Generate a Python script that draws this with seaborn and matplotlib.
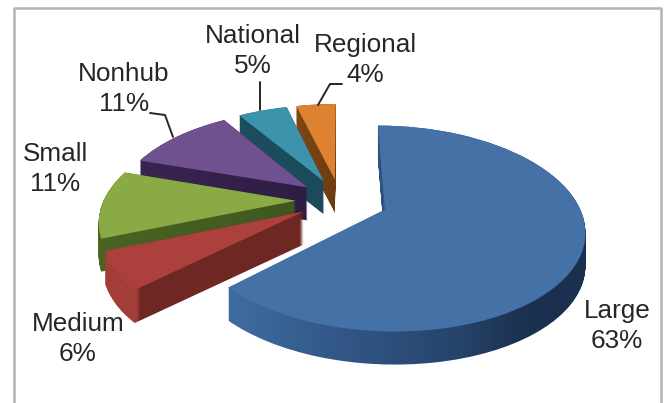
import numpy as np
import matplotlib
matplotlib.use("Agg")
import matplotlib.pyplot as plt
import matplotlib.colors as mcolors
from matplotlib.path import Path
from matplotlib.transforms import Transform, Affine2D, IdentityTransform
import seaborn as sns

categories = ["Large", "Medium", "Small", "Nonhub", "National", "Regional"]
shares = [63, 6, 11, 11, 5, 4]

top_colors = sns.color_palette(["#4471a6", "#ab403c", "#8aaa45", "#70518f", "#3c93ab", "#dc8231"])
# side wall colours, (pixel x, colour) stops
wall_stops = [
    [(230, "#3f6c9f"), (330, "#33598a"), (450, "#27456c"), (520, "#1c3251"), (590, "#1b2f4f")],
    [(100, "#a33d38"), (136, "#a33d38"), (140, "#6e2722"), (310, "#6e2722")],
    [(100, "#4a6423"), (310, "#3d5720")],
    [(130, "#3a2550"), (310, "#2f1d45")],
    [(230, "#1c4f60"), (330, "#1b4a5a")],
    [(300, "#7c4512"), (340, "#6b3b10")],
]
explode = [0.25, 0.22, 0.23, 0.22, 0.22, 0.22]

W, H = 665, 403
CX, CY = 340, 200
RX, RY = 192, 96
TILT = 0.18
DEPTH = 33


class Tilt(Transform):
    input_dims = output_dims = 2
    is_separable = False

    def transform_non_affine(self, values):
        values = np.asarray(values)
        d = 1 + TILT * values[:, 1]
        return np.column_stack([values[:, 0] / d, values[:, 1] / d])


sns.set_theme(style="white")
plt.rcParams["font.family"] = ["Liberation Sans", "DejaVu Sans"]

fig = plt.figure(figsize=(W / 100, H / 100), dpi=100)
ax = fig.add_axes([0, 0, 1, 1])

layers = []
for d in range(DEPTH, -1, -1):
    wedges, _ = ax.pie(shares, explode=explode, startangle=90, counterclock=False,
                       colors=top_colors)
    for w in wedges:
        w.set_transform(Tilt() + Affine2D().translate(0, -d / RY) + ax.transData)
        w.set_linewidth(0)
        w.set_visible(False)
    layers.append(wedges)

xlim = (-CX / RX, (W - CX) / RX)
ylim = ((CY - H) / RY, CY / RY)
ax.set_aspect("auto")
ax.set_xlim(xlim)
ax.set_ylim(ylim)
ax.axis("off")

px = np.arange(W)
# draw back to front so the front slices cover the walls behind them
for rank, i in enumerate(range(len(shares) - 1, -1, -1)):
    paths = [lay[i].get_transform().transform_path(lay[i].get_path()) for lay in layers]
    xs, cols = zip(*wall_stops[i])
    rgb = np.array([mcolors.to_rgb(c) for c in cols])
    img = np.stack([np.interp(px, xs, rgb[:, k]) for k in range(3)], axis=-1)[None, :, :]
    im = ax.imshow(img, extent=(*xlim, *ylim), aspect="auto", zorder=2 * rank + 1, interpolation="nearest")
    im.set_clip_path(Path.make_compound_path(*paths), transform=IdentityTransform())
    top = layers[-1][i]
    top.set_visible(True)
    top.set_zorder(2 * rank + 2)
ax.set_xlim(xlim)
ax.set_ylim(ylim)

# overlay in pixel units for the frame and labels
ov = fig.add_axes([0, 0, 1, 1], facecolor="none")
ov.set_xlim(0, W)
ov.set_ylim(H, 0)
ov.axis("off")

ov.plot([14, 14, 661, 661], [H, 8, 8, H], color="#b4b4b4", lw=1.8)

label_pos = {
    "Large": (617, 326),
    "Medium": (78, 339),
    "Small": (55, 169),
    "Nonhub": (124, 89),
    "National": (253, 51),
    "Regional": (365, 60),
}
for name, share in zip(categories, shares):
    x, y = label_pos[name]
    ov.text(x, y, f"{name}\n{share}%", ha="center", va="center", fontsize=18.8, color="#262626",
            linespacing=1.3)

leaders = [
    ([260, 260], [82, 110]),
    ([318, 330, 342], [105, 84, 84]),
    ([150, 165, 173], [113, 115, 137]),
]
for xs, ys in leaders:
    ov.plot(xs, ys, color="#262626", lw=1.4)

fig.savefig("out.png", dpi=100)
